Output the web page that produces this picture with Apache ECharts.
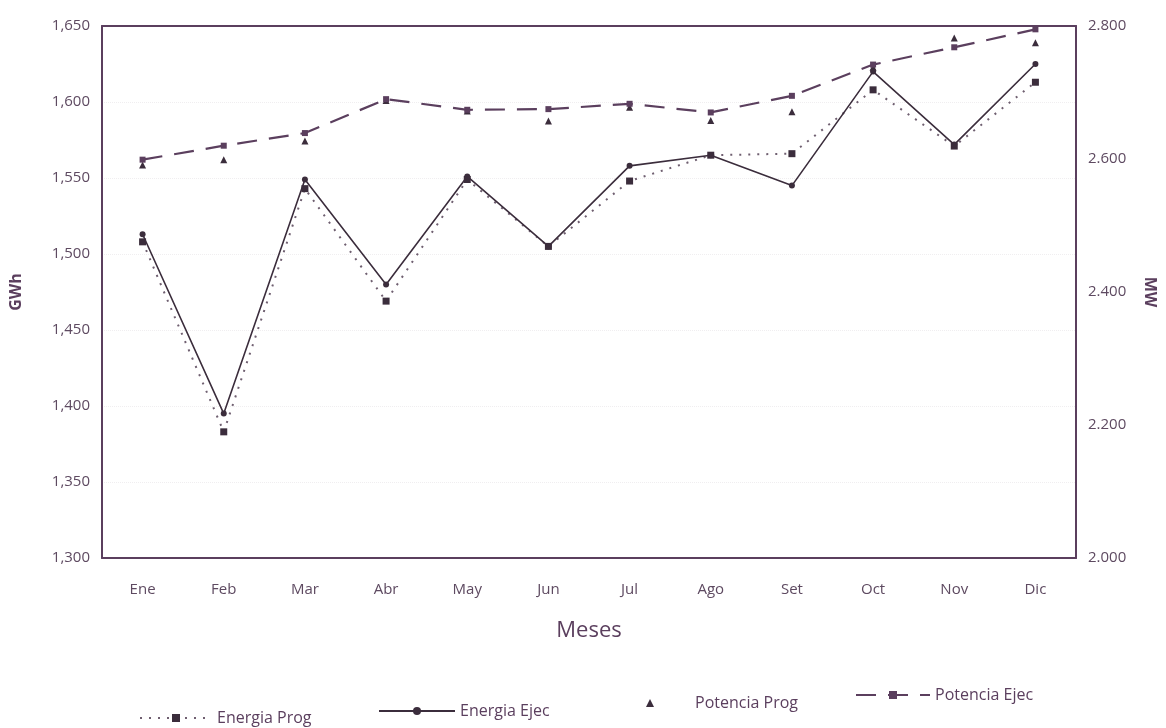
<!DOCTYPE html>
<html>
<head>
<meta charset="utf-8">
<script src="https://cdn.jsdelivr.net/npm/echarts@6/dist/echarts.min.js"></script>
<style>
  html, body { margin: 0; padding: 0; background: #ffffff; }
  #chart { width: 1166px; height: 728px; }
</style>
</head>
<body>
<div id="chart"></div>
<script>
// Meses del año
const meses = ['Ene', 'Feb', 'Mar', 'Abr', 'May', 'Jun', 'Jul', 'Ago', 'Set', 'Oct', 'Nov', 'Dic'];

// Energía (GWh) - eje izquierdo
const energiaProg = [1508, 1383, 1543, 1469, 1549, 1505, 1548, 1565, 1566, 1608, 1571, 1613];
const energiaEjec = [1513, 1395, 1549, 1480, 1551, 1505, 1558, 1565, 1545, 1620, 1572, 1625];

// Potencia (MW) - eje derecho
const potenciaProg = [2591, 2599, 2627, 2688, 2672, 2657, 2678, 2658, 2671, 2738, 2782, 2775];
const potenciaEjec = [2599, 2620, 2639, 2690, 2674, 2675, 2683, 2670, 2695, 2742, 2768, 2795];

// Escalas de los ejes
const gwhMin = 1300, gwhMax = 1650, gwhStep = 50;
const mwMin = 2000, mwMax = 2800, mwStep = 200;

const ink = '#5b3f5e';
const dark = '#3b2d3c';
const font = 'Open Sans, DejaVu Sans, sans-serif';

function miles(v, sep) {
  const s = String(Math.round(v));
  return s.length > 3 ? s.slice(0, s.length - 3) + sep + s.slice(-3) : s;
}

const chart = echarts.init(document.getElementById('chart'));

const legendText = { color: ink, fontFamily: font, fontSize: 16 };
const tickText = { color: '#5e4a61', fontFamily: font, fontSize: 15 };

chart.setOption({
  animation: false,
  backgroundColor: '#ffffff',
  grid: { left: 101, right: 88, top: 26, bottom: 170 },
  legend: [
    { data: ['Energia Prog'], left: 134, top: 705, itemWidth: 72, itemHeight: 10, itemGap: 5, textStyle: legendText },
    { data: ['Energia Ejec'], left: 373, top: 698, itemWidth: 76, itemHeight: 10, itemGap: 5, textStyle: legendText },
    { data: ['Potencia Prog'], left: 605, top: 690, itemWidth: 80, itemHeight: 10, itemGap: 5, textStyle: legendText },
    { data: ['Potencia Ejec'], left: 850, top: 682, itemWidth: 74, itemHeight: 10, itemGap: 5, textStyle: legendText }
  ],
  xAxis: [
    {
      type: 'category',
      data: meses,
      boundaryGap: true,
      name: 'Meses',
      nameLocation: 'middle',
      nameGap: 62,
      nameTextStyle: { color: ink, fontFamily: font, fontSize: 22 },
      axisLine: { show: true, lineStyle: { color: ink, width: 2 } },
      axisTick: { show: false },
      axisLabel: Object.assign({ margin: 24 }, tickText),
      splitLine: { show: false }
    },
    {
      // borde superior del área de trazado
      type: 'category',
      data: meses,
      position: 'top',
      axisLine: { show: true, lineStyle: { color: ink, width: 2 } },
      axisTick: { show: false },
      axisLabel: { show: false },
      splitLine: { show: false }
    }
  ],
  yAxis: [
    {
      type: 'value',
      min: gwhMin, max: gwhMax, interval: gwhStep,
      name: 'GWh',
      nameLocation: 'middle',
      nameRotate: 90,
      nameGap: 78,
      nameTextStyle: { color: ink, fontFamily: font, fontSize: 16, fontWeight: 'bold' },
      axisLine: { show: true, lineStyle: { color: ink, width: 2 } },
      axisTick: { show: false },
      axisLabel: Object.assign({ margin: 12, formatter: v => miles(v, ',') }, tickText),
      splitLine: { show: true, lineStyle: { color: '#f0eef0', type: 'dotted', width: 1 } }
    },
    {
      type: 'value',
      position: 'right',
      min: mwMin, max: mwMax, interval: mwStep,
      name: 'MW',
      nameLocation: 'middle',
      nameRotate: -90,
      nameGap: 66,
      nameTextStyle: { color: ink, fontFamily: font, fontSize: 16, fontWeight: 'bold' },
      axisLine: { show: true, lineStyle: { color: ink, width: 2 } },
      axisTick: { show: false },
      axisLabel: Object.assign({ margin: 12, formatter: v => miles(v, '.') }, tickText),
      splitLine: { show: false }
    }
  ],
  series: [
    {
      name: 'Energia Prog',
      type: 'line',
      yAxisIndex: 0,
      data: energiaProg,
      symbol: 'rect',
      symbolSize: 7,
      itemStyle: { color: dark },
      lineStyle: { color: '#6f5f70', width: 2, type: [2, 7] },
      z: 2
    },
    {
      name: 'Energia Ejec',
      type: 'line',
      yAxisIndex: 0,
      data: energiaEjec,
      symbol: 'circle',
      symbolSize: 6,
      itemStyle: { color: dark },
      lineStyle: { color: dark, width: 1.6, type: 'solid' },
      z: 3
    },
    {
      name: 'Potencia Prog',
      type: 'line',
      yAxisIndex: 1,
      data: potenciaProg,
      symbol: 'triangle',
      symbolSize: 7,
      itemStyle: { color: dark },
      lineStyle: { width: 0, opacity: 0 },
      z: 2
    },
    {
      name: 'Potencia Ejec',
      type: 'line',
      yAxisIndex: 1,
      data: potenciaEjec,
      symbol: 'rect',
      symbolSize: 6,
      itemStyle: { color: ink },
      lineStyle: { color: ink, width: 2.2, type: [20, 12] },
      z: 4
    }
  ]
});
</script>
</body>
</html>
